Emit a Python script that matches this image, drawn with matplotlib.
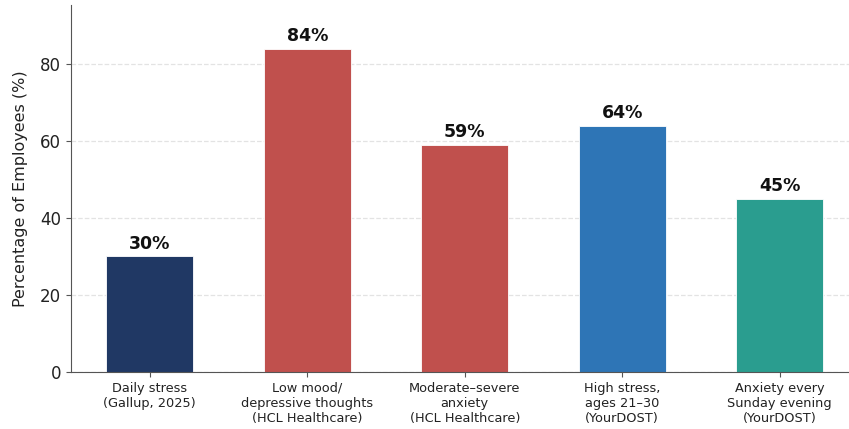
import matplotlib
matplotlib.use('Agg')
import matplotlib.pyplot as plt

# data
categories = [
    'Daily stress\n(Gallup, 2025)',
    'Low mood/\ndepressive thoughts\n(HCL Healthcare)',
    'Moderate–severe\nanxiety\n(HCL Healthcare)',
    'High stress,\nages 21–30\n(YourDOST)',
    'Anxiety every\nSunday evening\n(YourDOST)',
]
values = [30, 84, 59, 64, 45]
bar_colors = ['#203864', '#c0504d', '#c0504d', '#2e75b6', '#2a9d8f']

fig = plt.figure(figsize=(8.49, 4.29), dpi=100)
ax = fig.add_axes([71 / 849, 57 / 429, 787.5 / 849, 367 / 429])

x = range(len(values))
bars = ax.bar(x, values, width=0.55, color=bar_colors, edgecolor='white', linewidth=0.6, zorder=2)

for b, v in zip(bars, values):
    ax.text(b.get_x() + b.get_width() / 2, v + 1.0, f'{v}%', ha='center', va='bottom',
            fontsize=12.5, fontweight='bold', color='#111111')

ax.set_xlim(-0.5, 4.5)
ax.set_ylim(0, 95.3)
ax.set_yticks([0, 20, 40, 60, 80])
ax.set_xticks(list(x))
ax.set_xticklabels(categories, fontsize=9.3, color='#222222')
ax.tick_params(axis='y', labelsize=12, colors='#222222')
ax.tick_params(axis='both', color='#555555')
ax.set_ylabel('Percentage of Employees (%)', fontsize=11.5, color='#222222', labelpad=9)

ax.grid(axis='y', linestyle='--', color='#dddddd', alpha=0.8, linewidth=0.9, zorder=0)
ax.spines['top'].set_visible(False)
ax.spines['right'].set_visible(False)
ax.spines['left'].set_color('#555555')
ax.spines['bottom'].set_color('#555555')

fig.savefig('out.png', dpi=100)
